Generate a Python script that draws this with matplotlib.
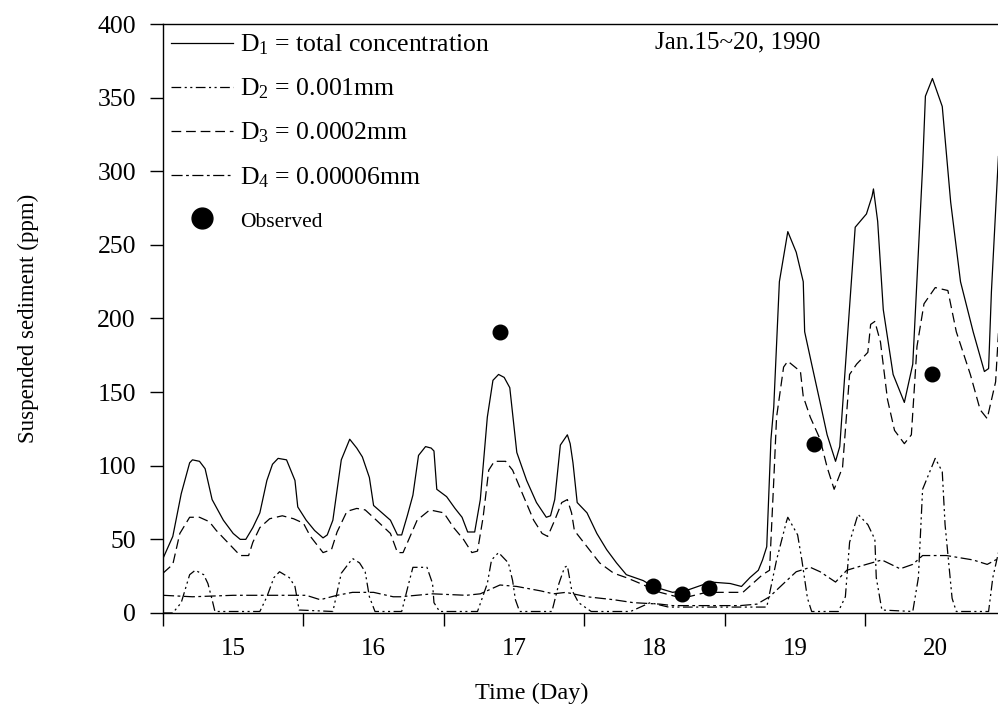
import numpy as np
import matplotlib
matplotlib.use('Agg')
import matplotlib.pyplot as plt
from matplotlib.lines import Line2D

plt.rcParams['font.family'] = ['Liberation Serif', 'DejaVu Serif']
plt.rcParams['mathtext.fontset'] = 'custom'
plt.rcParams['mathtext.rm'] = 'Liberation Serif'
plt.rcParams['mathtext.it'] = 'Liberation Serif:italic'
plt.rcParams['lines.scale_dashes'] = False

# D1 total concentration (day, ppm)
d1_t = [15.00, 15.07, 15.13, 15.19, 15.21, 15.26, 15.30, 15.35, 15.43, 15.50, 15.55, 15.59,
        15.64, 15.69, 15.74, 15.78, 15.82, 15.88, 15.94, 15.96, 16.02, 16.08, 16.14, 16.17,
        16.21, 16.27, 16.33, 16.38, 16.42, 16.47, 16.50, 16.56, 16.62, 16.67, 16.70, 16.74,
        16.78, 16.82, 16.87, 16.91, 16.93, 16.95, 17.02, 17.08, 17.13, 17.17, 17.22, 17.26,
        17.31, 17.35, 17.39, 17.43, 17.47, 17.52, 17.59, 17.66, 17.73, 17.76, 17.79, 17.83,
        17.88, 17.90, 17.92, 17.95, 18.02, 18.09, 18.16, 18.23, 18.30, 18.42, 18.49, 18.63,
        18.75, 18.90, 19.04, 19.12, 19.18, 19.24, 19.27, 19.30, 19.33, 19.35, 19.39, 19.45,
        19.51, 19.56, 19.57, 19.62, 19.68, 19.73, 19.79, 19.82, 19.87, 19.93, 20.01, 20.05,
        20.06, 20.09, 20.13, 20.20, 20.28, 20.34, 20.41, 20.43, 20.48, 20.55, 20.61, 20.68,
        20.77, 20.85, 20.88, 20.90, 20.95]
d1_c = [37, 52, 81, 102, 104, 103, 98, 77, 63, 54, 50, 50,
        58, 68, 90, 101, 105, 104, 90, 72, 63, 56, 51, 53,
        63, 104, 118, 112, 106, 92, 73, 68, 63, 53, 53, 66,
        80, 107, 113, 112, 110, 84, 79, 71, 65, 55, 55, 77,
        133, 158, 162, 160, 153, 109, 90, 75, 65, 66, 77, 114,
        121, 115, 102, 75, 68, 54, 43, 34, 26, 22, 18, 14,
        16, 21, 20, 18, 24, 29, 36, 45, 118, 140, 225, 259,
        245, 225, 191, 169, 143, 121, 103, 113, 181, 262, 271, 283,
        288, 266, 206, 162, 143, 169, 303, 351, 363, 344, 279, 225,
        191, 164, 166, 218, 310]

# D2 = 0.001 mm
d2_t = [15.00, 15.07, 15.13, 15.19, 15.23, 15.29, 15.32, 15.35, 15.37, 15.69, 15.74, 15.79,
        15.83, 15.90, 15.94, 15.97, 16.21, 16.27, 16.35, 16.40, 16.44, 16.47, 16.51, 16.70,
        16.75, 16.78, 16.88, 16.92, 16.93, 16.97, 17.24, 17.31, 17.34, 17.39, 17.46, 17.49,
        17.51, 17.54, 17.77, 17.82, 17.86, 17.88, 17.91, 17.96, 18.05, 18.33, 18.47, 18.60,
        19.30, 19.37, 19.44, 19.45, 19.52, 19.55, 19.59, 19.62, 19.81, 19.86, 19.89, 19.95,
        20.02, 20.07, 20.08, 20.12, 20.34, 20.38, 20.41, 20.50, 20.55, 20.57, 20.62, 20.65,
        20.88, 20.91, 20.95]
d2_c = [0, 0, 7, 26, 29, 26, 20, 9, 1, 1, 11, 24,
        28, 24, 18, 2, 1, 27, 37, 34, 28, 11, 1, 1,
        20, 31, 31, 20, 7, 1, 1, 20, 36, 41, 34, 22,
        9, 1, 1, 20, 31, 32, 16, 7, 1, 1, 7, 4,
        4, 36, 62, 65, 53, 36, 10, 1, 1, 11, 48, 67,
        60, 50, 24, 2, 1, 24, 84, 105, 96, 60, 10, 1,
        1, 24, 41]

# D3 = 0.0002 mm
d3_t = [15.00, 15.07, 15.12, 15.19, 15.26, 15.33, 15.38, 15.46, 15.55, 15.61, 15.64, 15.69,
        15.76, 15.85, 15.93, 16.00, 16.05, 16.14, 16.20, 16.24, 16.31, 16.38, 16.44, 16.52,
        16.62, 16.67, 16.71, 16.81, 16.90, 17.00, 17.07, 17.14, 17.20, 17.24, 17.28, 17.32,
        17.36, 17.44, 17.49, 17.56, 17.64, 17.70, 17.74, 17.79, 17.84, 17.88, 17.91, 17.93,
        18.02, 18.11, 18.21, 18.30, 18.40, 18.54, 18.70, 18.87, 19.02, 19.13, 19.20, 19.27,
        19.32, 19.35, 19.37, 19.42, 19.45, 19.54, 19.56, 19.61, 19.68, 19.73, 19.78, 19.84,
        19.89, 19.94, 20.02, 20.04, 20.07, 20.11, 20.16, 20.21, 20.28, 20.33, 20.37, 20.42,
        20.50, 20.59, 20.65, 20.75, 20.82, 20.87, 20.93, 20.95]
d3_c = [27, 33, 54, 65, 65, 62, 56, 48, 39, 39, 48, 58,
        64, 66, 64, 61, 52, 41, 43, 55, 69, 71, 70, 63,
        54, 41, 41, 63, 70, 68, 58, 50, 41, 42, 65, 97,
        103, 103, 97, 81, 63, 54, 52, 63, 75, 77, 68, 56,
        45, 34, 27, 24, 20, 14, 10, 14, 14, 14, 20, 26,
        29, 90, 133, 167, 171, 164, 147, 133, 118, 99, 84, 99,
        162, 169, 177, 196, 198, 184, 145, 124, 115, 121, 181, 210,
        221, 219, 191, 162, 138, 132, 157, 190]

# D4 = 0.00006 mm
d4_t = [15.00, 15.21, 15.50, 15.76, 16.02, 16.12, 16.24, 16.35, 16.50, 16.64, 16.69, 16.92,
        17.16, 17.26, 17.40, 17.52, 17.69, 17.78, 17.87, 18.02, 18.21, 18.35, 18.54, 18.63,
        19.11, 19.23, 19.32, 19.42, 19.51, 19.61, 19.68, 19.79, 19.87, 20.01, 20.12, 20.25,
        20.34, 20.41, 20.58, 20.77, 20.87, 20.95]
d4_c = [12, 11, 12, 12, 12, 9, 12, 14, 14, 11, 11, 13,
        12, 13, 19, 18, 15, 13, 14, 11, 9, 7, 6, 5,
        5, 6, 11, 20, 28, 31, 28, 21, 29, 33, 36, 30,
        33, 39, 39, 36, 33, 37]

# observed
obs_t = [17.40, 18.49, 18.70, 18.89, 19.64, 20.48]
obs_c = [191, 18, 13, 17, 115, 162]

fig = plt.figure(figsize=(9.98, 7.13), dpi=100)
ax = fig.add_axes([0.1633, 0.1403, 0.8367, 0.826])

ax.plot(d1_t, d1_c, color='black', lw=0.9)
ax.plot(d2_t, d2_c, color='black', lw=0.9, dashes=(7, 2.5, 1.5, 2.5, 1.5, 2.5))
ax.plot(d3_t, d3_c, color='black', lw=0.9, dashes=(7, 3.5))
ax.plot(d4_t, d4_c, color='black', lw=0.9, dashes=(8, 2.5, 2, 2.5))
ax.plot(obs_t, obs_c, 'o', color='black', ms=10.5)

ax.set_xlim(15, 20.947)
ax.set_ylim(0, 400)
ax.spines['right'].set_visible(False)
for s in ['left', 'bottom', 'top']:
    ax.spines[s].set_linewidth(1.0)

days = [15, 16, 17, 18, 19, 20]
ax.set_xticks(days)
ax.set_xticklabels([])
ax.set_xticks([d + 0.5 for d in days], minor=True)
ax.set_xticklabels([str(d) for d in days], minor=True)
ax.tick_params(axis='x', which='major', direction='out', length=9.5, width=1.0)
ax.tick_params(axis='x', which='minor', length=0, pad=18, labelsize=18)
ax.set_yticks(np.arange(0, 401, 50))
ax.tick_params(axis='y', direction='out', length=9.5, width=1.0, pad=10, labelsize=18.5)

ax.set_xlabel('Time (Day)', fontsize=17.5)
ax.xaxis.set_label_coords(0.442, -0.118)
ax.set_ylabel('Suspended sediment (ppm)', fontsize=16.5)
ax.yaxis.set_label_coords(-0.148, 0.5)

ax.text(0.589, 0.969, 'Jan.15~20, 1990', transform=ax.transAxes, fontsize=18,
        ha='left', va='center')

handles = [
    Line2D([], [], color='black', lw=0.9),
    Line2D([], [], color='black', lw=0.9, dashes=(7, 2.5, 1.5, 2.5, 1.5, 2.5)),
    Line2D([], [], color='black', lw=0.9, dashes=(7, 3.5)),
    Line2D([], [], color='black', lw=0.9, dashes=(8, 2.5, 2, 2.5)),
    Line2D([], [], color='black', marker='o', ls='none', ms=15),
]
labels = ['D$_1$ = total concentration', 'D$_2$ = 0.001mm', 'D$_3$ = 0.0002mm',
          'D$_4$ = 0.00006mm', 'Observed']
leg = ax.legend(handles, labels, loc='upper left', bbox_to_anchor=(-0.012, 1.016),
                frameon=False, fontsize=18.5, handlelength=2.4, handletextpad=0.3,
                labelspacing=0.76, borderaxespad=0.3)
leg.get_texts()[4].set_fontsize(15.5)

fig.savefig('out.png', dpi=100)
